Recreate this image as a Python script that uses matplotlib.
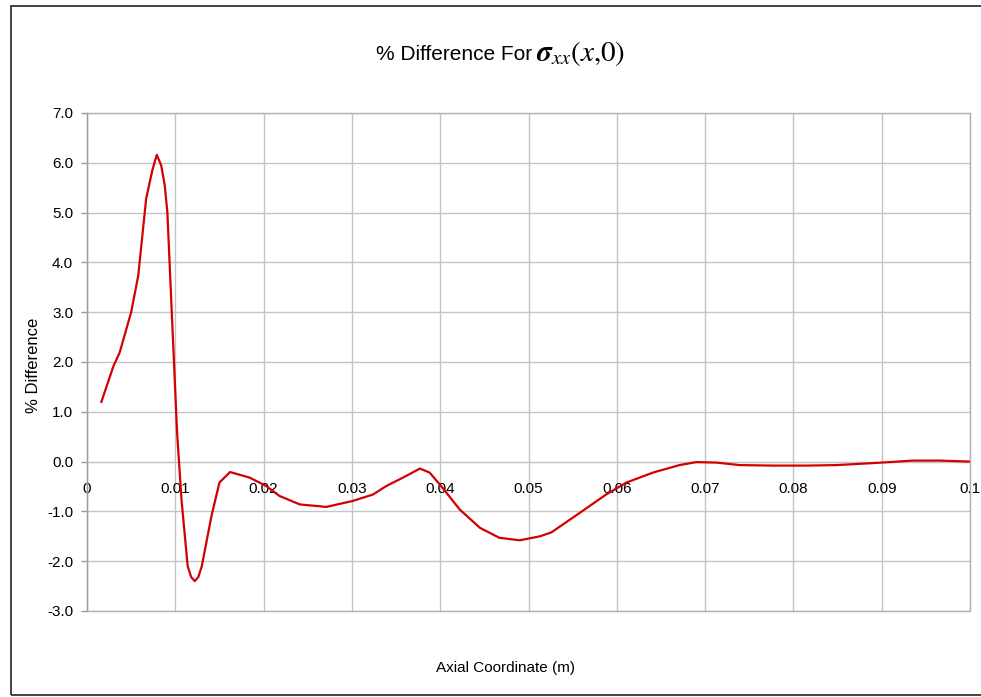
import matplotlib
matplotlib.use("Agg")
import matplotlib.pyplot as plt
from matplotlib.patches import Rectangle

# values
axial_x = [0.00163, 0.0030, 0.0037, 0.0050, 0.0058, 0.0067, 0.0074, 0.0079, 0.0084,
           0.0088, 0.0091, 0.0097, 0.0102, 0.0107, 0.0114, 0.0118, 0.0122, 0.0126,
           0.0130, 0.0141, 0.0150, 0.0162, 0.0184, 0.0203, 0.0218, 0.0241, 0.0271,
           0.0301, 0.0324, 0.0339, 0.0358, 0.0377, 0.0388, 0.0401, 0.0422, 0.0445,
           0.0467, 0.0490, 0.0513, 0.0526, 0.0558, 0.0588, 0.0611, 0.0641, 0.0671,
           0.0690, 0.0713, 0.0739, 0.0777, 0.0815, 0.0849, 0.0890, 0.0909, 0.0935,
           0.0966, 0.1000]
pct_diff = [1.20, 1.92, 2.19, 3.00, 3.73, 5.28, 5.85, 6.16, 5.95,
            5.55, 5.01, 2.60, 0.59, -0.76, -2.10, -2.32, -2.40, -2.32,
            -2.10, -1.09, -0.42, -0.21, -0.32, -0.49, -0.69, -0.86, -0.91,
            -0.79, -0.66, -0.49, -0.32, -0.14, -0.22, -0.49, -0.96, -1.33,
            -1.53, -1.58, -1.50, -1.42, -1.03, -0.66, -0.42, -0.22, -0.07,
            -0.01, -0.02, -0.07, -0.08, -0.08, -0.07, -0.03, -0.01, 0.02,
            0.02, 0.00]

x_ticks = [0, 0.01, 0.02, 0.03, 0.04, 0.05, 0.06, 0.07, 0.08, 0.09, 0.1]
x_tick_labels = ["0", "0.01", "0.02", "0.03", "0.04", "0.05", "0.06", "0.07", "0.08", "0.09", "0.1"]
y_ticks = [-3, -2, -1, 0, 1, 2, 3, 4, 5, 6, 7]

plt.rcParams['font.family'] = ['Liberation Sans', 'DejaVu Sans']
plt.rcParams['mathtext.fontset'] = 'stix'

W, H = 981, 697
fig = plt.figure(figsize=(W / 100, H / 100), dpi=100)
ax = fig.add_axes([87 / W, 1 - 611 / H, (970 - 87) / W, (611 - 113) / H])

grid_col = '#c4c4c4'
ax.plot(axial_x, pct_diff, color='#d40000', linewidth=1.6, zorder=3)

ax.set_xlim(0, 0.1)
ax.set_ylim(-3, 7)
ax.set_xticks(x_ticks)
ax.set_xticklabels(x_tick_labels)
ax.set_yticks(y_ticks)
ax.set_yticklabels([f"{v:.1f}" for v in y_ticks])
ax.grid(True, color=grid_col, linewidth=1.0)
ax.set_axisbelow(True)

# x axis crosses at zero, like the spreadsheet chart
for side in ['top', 'right']:
    ax.spines[side].set_visible(False)
ax.spines['bottom'].set_position(('data', 0))
ax.spines['bottom'].set_color(grid_col)
ax.spines['left'].set_color('#9a9a9a')
ax.add_patch(Rectangle((0, 0), 1, 1, transform=ax.transAxes, fill=False,
                       edgecolor='#b0b0b0', linewidth=1.0, clip_on=False, zorder=1))

ax.tick_params(axis='x', length=0, pad=15, labelsize=11, colors='black')
ax.tick_params(axis='y', direction='out', length=4, width=1, color='#9a9a9a',
               pad=6, labelsize=11)

# title: plain part plus a larger math part
fig.text(532 / W, 1 - 55 / H, "% Difference For", ha='right', va='center', fontsize=15)
fig.text(536 / W, 1 - 53 / H, r"$\mathbfit{\sigma}_{xx}(x{,}0)$",
         ha='left', va='center', fontsize=21)
fig.text(506 / W, 1 - 668 / H, "Axial Coordinate (m)", ha='center', va='center', fontsize=11)
fig.text(33 / W, 1 - 365 / H, "% Difference", ha='center', va='center',
         rotation=90, fontsize=12)

# outer chart border
fig.add_artist(Rectangle((11 / W, 1 - 695 / H), (990 - 11) / W, (695 - 6) / H,
                         transform=fig.transFigure, fill=False, edgecolor='#222222',
                         linewidth=1.2, clip_on=False))

fig.savefig("out.png", dpi=100)
